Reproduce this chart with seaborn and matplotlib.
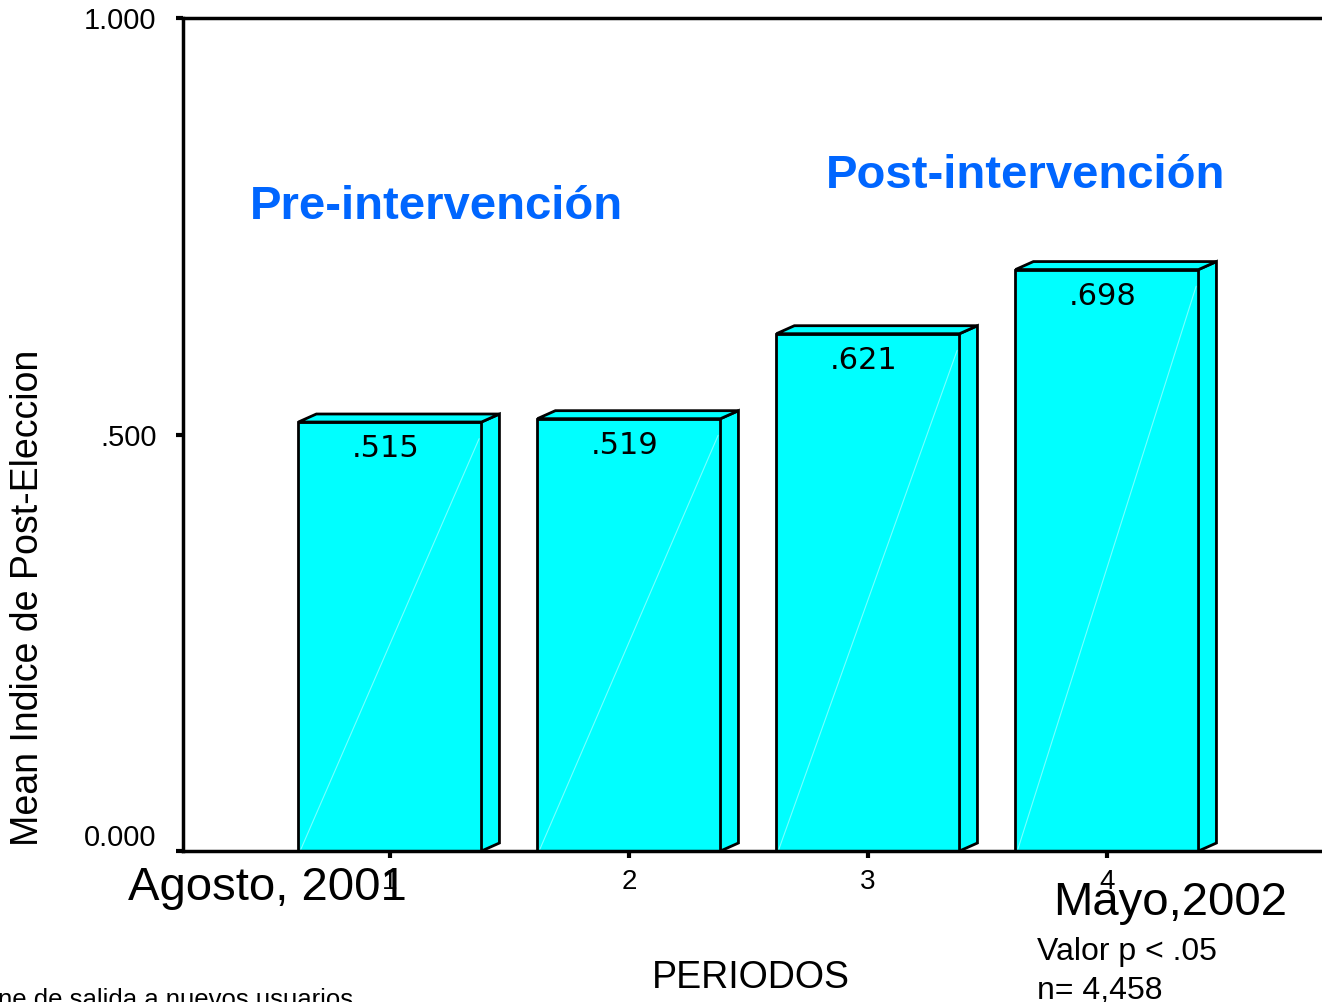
import matplotlib
matplotlib.use('Agg')
import matplotlib.pyplot as plt
from matplotlib.patches import Polygon
import matplotlib.transforms as mtransforms
import seaborn as sns
import pandas as pd

# Data.
periods = [1, 2, 3, 4]
period_labels = ["1", "2", "3", "4"]
means = [0.515, 0.519, 0.621, 0.698]
value_labels = [".515", ".519", ".621", ".698"]
ytick_values = [0.0, 0.5, 1.0]
ytick_labels = ["0.000", ".500", "1.000"]

CYAN = "#00FFFF"
BLUE = "#0066FF"
W, H = 1322, 1002


def px(x, y):
    # pixel position (from top-left) to figure fraction
    return x / W, (H - y) / H


sns.set_style("ticks")
plt.rcParams['font.family'] = ['Liberation Sans', 'DejaVu Sans']
plt.rcParams['text.color'] = 'black'
plt.rcParams['xtick.color'] = 'black'
plt.rcParams['ytick.color'] = 'black'

fig = plt.figure(figsize=(W / 100, H / 100), dpi=100)
# axes: left spine at x=183, top at y=18, bottom at y=851; right edge off the figure
ax = fig.add_axes([183 / W, (H - 851) / H, (1346 - 183) / W, (851 - 18) / H])

df = pd.DataFrame({"periodo": periods, "media": means})
sns.barplot(data=df, x="periodo", y="media", native_scale=True, width=0.766,
            color=CYAN, saturation=1, edgecolor="black", linewidth=2,
            errorbar=None, ax=ax, zorder=2)

ax.set_xlim(0.134, 5.0)
ax.set_ylim(0, 1.0)

# fake 3D depth: side and top faces for every bar
dx, dy = 0.075, 0.0096
for p, lab in zip(ax.patches, value_labels):
    x0, w, h = p.get_x(), p.get_width(), p.get_height()
    side = Polygon([(x0 + w, 0), (x0 + w + dx, dy), (x0 + w + dx, h + dy), (x0 + w, h)],
                   closed=True, facecolor=CYAN, edgecolor="black", linewidth=2, zorder=3)
    top = Polygon([(x0, h), (x0 + dx, h + dy), (x0 + w + dx, h + dy), (x0 + w, h)],
                  closed=True, facecolor=CYAN, edgecolor="black", linewidth=2, zorder=3)
    ax.add_patch(side)
    ax.add_patch(top)
    ax.plot([x0 + 0.01, x0 + w - 0.01], [0.002, h - 0.02], color="#aaffff",
            lw=0.8, alpha=0.7, zorder=2.5)
    ax.text(x0 + w / 2 - 0.02, h - 0.032, lab, ha="center", va="center",
            fontsize=22, family="DejaVu Sans", color="black", zorder=4)

ax.set_xticks(periods)
ax.set_xticklabels(period_labels, fontsize=20)
ax.set_yticks(ytick_values)
ax.set_yticklabels(ytick_labels, fontsize=21)
ax.tick_params(axis="both", direction="out", length=5, width=3, color="black")
ax.tick_params(axis="x", pad=8)
ax.tick_params(axis="y", pad=14)
ax.set_xlabel("")
ax.set_ylabel("")

# the 0.000 label sits above its tick
lbl0 = ax.get_yticklabels()[0]
lbl0.set_transform(lbl0.get_transform() +
                   mtransforms.ScaledTranslation(0, 16 / 100, fig.dpi_scale_trans))

for side_name in ["left", "top", "bottom"]:
    ax.spines[side_name].set_visible(True)
    ax.spines[side_name].set_linewidth(2.5)
    ax.spines[side_name].set_color("black")
ax.spines["right"].set_visible(False)

# annotations
fig.text(*px(28, 598), "Mean Indice de Post-Eleccion", rotation=90,
         ha="center", va="center", fontsize=27)
fig.text(*px(751, 988), "PERIODOS", ha="center", va="baseline", fontsize=27)
fig.text(*px(267, 900), "Agosto, 2001", ha="center", va="baseline", fontsize=34)
fig.text(*px(1170, 915), "Mayo,2002", ha="center", va="baseline", fontsize=34)
fig.text(*px(1037, 960), "Valor p < .05", ha="left", va="baseline", fontsize=23)
fig.text(*px(1037, 999), "n= 4,458", ha="left", va="baseline", fontsize=23)
fig.text(*px(250, 219), "Pre-intervención", ha="left", va="baseline",
         fontsize=34, fontweight="bold", color=BLUE)
fig.text(*px(826, 188), "Post-intervención", ha="left", va="baseline",
         fontsize=34, fontweight="bold", color=BLUE)
fig.text(*px(-2, 1007), "ne de salida a nuevos usuarios", ha="left",
         va="baseline", fontsize=18.5)

fig.savefig("out.png", dpi=100)
plt.close()
